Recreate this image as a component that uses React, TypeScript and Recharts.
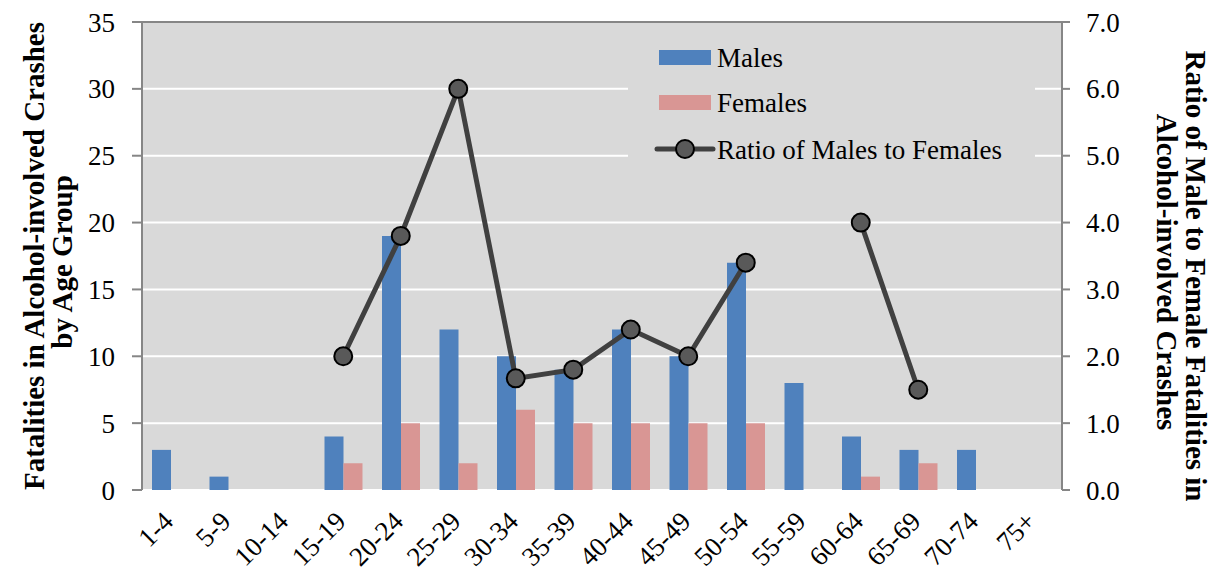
import React from 'react';
import { ComposedChart, Bar, Line, XAxis, YAxis, CartesianGrid, Legend, ReferenceLine } from 'recharts';

const ageGroups = ['1-4', '5-9', '10-14', '15-19', '20-24', '25-29', '30-34', '35-39', '40-44', '45-49', '50-54', '55-59', '60-64', '65-69', '70-74', '75+'];
const males = [3, 1, 0, 4, 19, 12, 10, 9, 12, 10, 17, 8, 4, 3, 3, 0];
const females = [0, 0, 0, 2, 5, 2, 6, 5, 5, 5, 5, 0, 1, 2, 0, 0];
const ratio: (number | null)[] = [null, null, null, 2.0, 3.8, 6.0, 1.67, 1.8, 2.4, 2.0, 3.4, null, 4.0, 1.5, null, null];
const leftTicks = [0, 5, 10, 15, 20, 25, 30, 35];
const rightTicks = [0, 1, 2, 3, 4, 5, 6, 7];
const boundaryTicks = ageGroups.map((_, i) => i).concat([ageGroups.length]);

const data = ageGroups.map((g, i) => ({ group: g, males: males[i], females: females[i], ratio: ratio[i] }));

const FONT = "'Liberation Serif', 'Times New Roman', serif";
const AXIS = '#868686';
const MALE = '#4f81bd';
const FEMALE = '#d99694';
const LINE = '#404040';
const FS = 27;

const CatTick = (props: any) => {
  const { x, y, payload } = props;
  return (
    <g transform={`translate(${x + 4},${y + 33})`}>
      <text textAnchor="end" transform="rotate(-45)" fontSize={FS} fontFamily={FONT} fill="#000">
        {payload.value}
      </text>
    </g>
  );
};

const LeftTitle = (props: any) => {
  const vb = props.viewBox || { x: 0, y: 22, width: 142, height: 468 };
  const cy = vb.y + vb.height / 2;
  const x1 = vb.x + 44;
  const x2 = vb.x + 72;
  return (
    <g fontFamily={FONT} fontWeight="bold" fontSize={29} fill="#000">
      <text x={x1} y={cy} textAnchor="middle" transform={`rotate(-90, ${x1}, ${cy})`}>Fatalities in Alcohol-involved Crashes</text>
      <text x={x2} y={cy + 6} textAnchor="middle" transform={`rotate(-90, ${x2}, ${cy + 6})`}>by Age Group</text>
    </g>
  );
};

const RightTitle = (props: any) => {
  const vb = props.viewBox || { x: 1062, y: 22, width: 152, height: 468 };
  const cy = vb.y + vb.height / 2 + 20;
  const x1 = vb.x + 124;
  const x2 = vb.x + 95;
  return (
    <g fontFamily={FONT} fontWeight="bold" fontSize={29} fill="#000">
      <text x={x1} y={cy} textAnchor="middle" transform={`rotate(90, ${x1}, ${cy})`}>Ratio of Male to Female Fatalities in</text>
      <text x={x2} y={cy - 4} textAnchor="middle" transform={`rotate(90, ${x2}, ${cy - 4})`}>Alcohol-involved Crashes</text>
    </g>
  );
};

const LegendBox = () => (
  <svg width={407} height={150} style={{ display: 'block', background: '#d9d9d9' }}>
    <rect x={31} y={20} width={52} height={15} fill={MALE} />
    <text x={89} y={37} fontSize={FS} fontFamily={FONT} fill="#000">Males</text>
    <rect x={31} y={65} width={52} height={15} fill={FEMALE} />
    <text x={89} y={82} fontSize={FS} fontFamily={FONT} fill="#000">Females</text>
    <line x1={29} y1={119} x2={85} y2={119} stroke={LINE} strokeWidth={5} strokeLinecap="round" />
    <circle cx={57} cy={119} r={9} fill="#595959" stroke="#000" strokeWidth={2} />
    <text x={89} y={129} fontSize={FS} fontFamily={FONT} fill="#000">Ratio of Males to Females</text>
  </svg>
);

export default function App() {
  return (
    <div style={{ width: 1214, height: 574 }}>
      <style>{`body{margin:0}`}</style>
      <ComposedChart
        width={1214}
        height={574}
        data={data}
        margin={{ top: 22, right: 0, bottom: 0, left: 0 }}
        barSize={19}
        barGap={0}
      >
        <CartesianGrid vertical={false} stroke="#ffffff" strokeWidth={2} fill="#d9d9d9" yAxisId="left" />
        <XAxis
          xAxisId="bounds"
          type="number"
          domain={[0, ageGroups.length]}
          ticks={boundaryTicks}
          tick={false}
          tickSize={8}
          height={0}
          axisLine={{ stroke: AXIS, strokeWidth: 2 }}
          tickLine={{ stroke: AXIS, strokeWidth: 2 }}
          allowDataOverflow
        />
        <XAxis
          dataKey="group"
          height={84}
          axisLine={false}
          tickLine={false}
          tickSize={0}
          tickMargin={0}
          interval={0}
          tick={<CatTick />}
        />
        <YAxis
          yAxisId="left"
          width={142}
          domain={[0, 35]}
          ticks={leftTicks}
          tickSize={10}
          tickMargin={17}
          axisLine={{ stroke: AXIS, strokeWidth: 2 }}
          tickLine={{ stroke: AXIS, strokeWidth: 2 }}
          tick={{ fontSize: FS, fontFamily: FONT, fill: '#000' }}
          label={<LeftTitle />}
        />
        <YAxis
          yAxisId="right"
          orientation="right"
          width={152}
          domain={[0, 7]}
          ticks={rightTicks}
          tickFormatter={(v: number) => v.toFixed(1)}
          tickSize={8}
          tickMargin={16}
          axisLine={{ stroke: AXIS, strokeWidth: 2 }}
          tickLine={{ stroke: AXIS, strokeWidth: 2 }}
          tick={{ fontSize: FS, fontFamily: FONT, fill: '#000' }}
          label={<RightTitle />}
        />
        <ReferenceLine yAxisId="left" y={35} stroke={AXIS} strokeWidth={2} />
        <Bar yAxisId="left" dataKey="males" name="Males" fill={MALE} isAnimationActive={false} />
        <Bar yAxisId="left" dataKey="females" name="Females" fill={FEMALE} isAnimationActive={false} />
        <Line
          yAxisId="right"
          dataKey="ratio"
          name="Ratio of Males to Females"
          stroke={LINE}
          strokeWidth={5}
          connectNulls={false}
          dot={{ r: 9, fill: '#595959', stroke: '#000', strokeWidth: 2 }}
          activeDot={false}
          isAnimationActive={false}
        />
        <Legend
          layout="vertical"
          align="center"
          verticalAlign="middle"
          content={<LegendBox />}
          wrapperStyle={{ position: 'absolute', left: 628, top: 30, width: 407, height: 150 }}
        />
      </ComposedChart>
    </div>
  );
}
